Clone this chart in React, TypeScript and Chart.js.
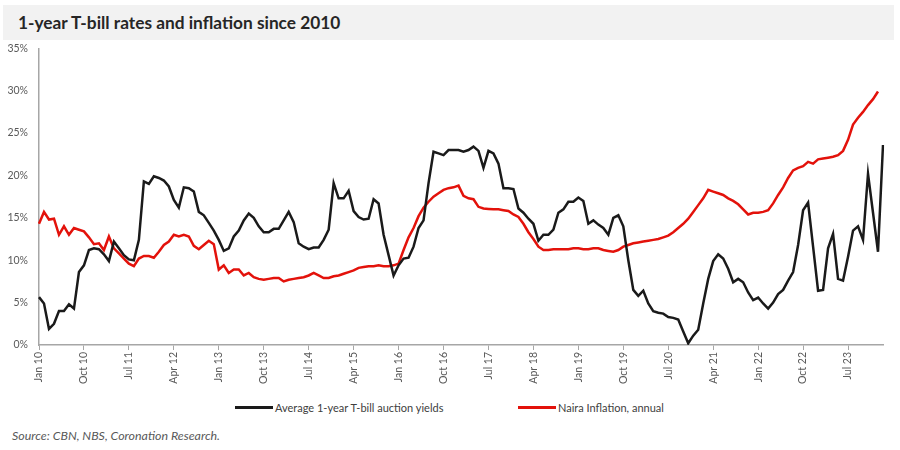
import { Chart, registerables } from "chart.js";
import { ChartConfiguration } from "chart.js";
import { useEffect, useRef } from "react";

Chart.register(...registerables);

const MONTHS = ["Jan", "Feb", "Mar", "Apr", "May", "Jun", "Jul", "Aug", "Sep", "Oct", "Nov", "Dec"];

// monthly categories, Jan 10 .. Feb 24
const categories: string[] = Array.from({ length: 170 }).map(
  (_, i) => `${MONTHS[i % 12]} ${10 + Math.floor(i / 12)}`
);

const TICK_EVERY = 9;
const Y_MIN = 0;
const Y_MAX = 35;
const Y_STEP = 5;

// Average 1-year T-bill auction yields, %
const tbillYields = [
  5.65, 4.9, 1.9, 2.5, 4.0, 4.0, 4.8, 4.3, 8.6, 9.4, 11.2, 11.4,
  11.3, 10.7, 9.9, 12.2, 11.4, 10.6, 10.1, 10.0, 12.4, 19.3, 19.0, 19.9,
  19.7, 19.4, 18.7, 17.1, 16.2, 18.6, 18.5, 18.1, 15.7, 15.3, 14.4, 13.5,
  12.4, 11.1, 11.4, 12.8, 13.5, 14.7, 15.5, 15.0, 14.0, 13.3, 13.3, 13.7,
  13.7, 14.7, 15.7, 14.5, 12.0, 11.6, 11.3, 11.5, 11.5, 12.4, 13.6, 19.1,
  17.3, 17.3, 18.2, 15.8, 15.1, 14.8, 14.9, 17.2, 16.7, 13.0, 10.6, 8.2,
  9.4, 10.2, 10.3, 11.6, 13.8, 14.7, 19.1, 22.8, 22.6, 22.4, 23.0, 23.0,
  23.0, 22.8, 23.0, 23.4, 22.9, 20.9, 22.9, 22.6, 21.4, 18.5, 18.5, 18.4,
  16.1, 15.6, 14.9, 14.3, 12.3, 13.0, 13.0, 13.6, 15.6, 16.0, 16.9, 16.9,
  17.4, 17.0, 14.3, 14.7, 14.2, 13.8, 13.0, 15.0, 15.3, 14.0, 10.0, 6.5,
  5.8, 6.4, 4.9, 4.0, 3.8, 3.7, 3.3, 3.2, 3.0, 1.6, 0.2, 1.1,
  1.8, 4.9, 7.8, 9.9, 10.7, 10.2, 9.0, 7.4, 7.8, 7.4, 6.2, 5.3,
  5.6, 4.9, 4.3, 5.0, 6.0, 6.5, 7.6, 8.6, 11.8, 15.9, 16.8, 11.6,
  6.4, 6.5, 11.4, 13.1, 7.8, 7.6, 10.4, 13.5, 14.0, 12.4, 20.2, 15.6,
  11.0, 23.6,
];

// Naira inflation, annual, %
const inflation = [
  14.3, 15.7, 14.8, 14.9, 13.0, 14.0, 13.0, 13.8, 13.6, 13.4, 12.7, 11.9,
  12.0, 11.2, 12.8, 11.4, 10.8, 10.2, 9.6, 9.3, 10.2, 10.5, 10.5, 10.3,
  11.0, 11.8, 12.2, 13.0, 12.8, 13.0, 12.8, 11.7, 11.3, 11.8, 12.3, 11.9,
  8.9, 9.4, 8.5, 8.9, 8.9, 8.2, 8.5, 8.0, 7.8, 7.7, 7.8, 7.9,
  7.9, 7.5, 7.7, 7.8, 7.9, 8.0, 8.2, 8.5, 8.2, 7.9, 7.9, 8.1,
  8.2, 8.4, 8.6, 8.8, 9.1, 9.2, 9.3, 9.3, 9.4, 9.3, 9.3, 9.4,
  9.6, 11.2, 12.7, 13.8, 15.2, 16.2, 16.9, 17.5, 17.9, 18.3, 18.5, 18.6,
  18.8, 17.6, 17.3, 17.2, 16.3, 16.1, 16.05, 16.0, 16.0, 15.9, 15.8, 15.4,
  15.1, 14.3, 13.3, 12.5, 11.6, 11.2, 11.2, 11.3, 11.3, 11.3, 11.3, 11.4,
  11.4, 11.3, 11.3, 11.4, 11.4, 11.2, 11.1, 11.0, 11.2, 11.6, 11.8, 12.0,
  12.1, 12.2, 12.3, 12.4, 12.5, 12.7, 12.9, 13.3, 13.8, 14.3, 14.9, 15.7,
  16.5, 17.3, 18.3, 18.1, 17.9, 17.7, 17.3, 17.0, 16.6, 16.0, 15.4, 15.6,
  15.6, 15.7, 15.9, 16.7, 17.7, 18.6, 19.7, 20.6, 20.9, 21.1, 21.6, 21.4,
  21.9, 22.0, 22.1, 22.2, 22.4, 22.9, 24.2, 26.0, 26.8, 27.5, 28.3, 29.0,
  29.9,
];

const BLACK = "#1a1a1a";
const RED = "#e3120b";
const AXIS = "#a6a6a6";
const TEXT = "#595959";
const FONT = "Lato";

const SERIES = [
  { label: "Average 1-year T-bill auction yields", data: tbillYields, color: BLACK, left: 235 },
  { label: "Naira Inflation, annual", data: inflation, color: RED, left: 518 },
];

const App = () => {
  const canvasRef = useRef<HTMLCanvasElement>(null);

  useEffect(() => {
    document.body.style.margin = "0";
    const ctx = canvasRef.current?.getContext("2d");

    if (!ctx) {
      return;
    }

    const config: ChartConfiguration<"line"> = {
      type: "line",
      data: {
        labels: categories,
        datasets: SERIES.map((s) => ({
          label: s.label,
          data: s.data,
          borderColor: s.color,
          backgroundColor: s.color,
          borderWidth: 2.5,
          pointRadius: 0,
          tension: 0,
        })),
      },
      options: {
        animation: false,
        responsive: false,
        layout: { padding: { top: 0, right: 17, left: 0, bottom: 0 } },
        plugins: {
          legend: { display: false },
          tooltip: { enabled: false },
        },
        scales: {
          x: {
            type: "category",
            afterBuildTicks: (scale) => {
              scale.ticks = scale.ticks.filter((t) => t.value % TICK_EVERY === 0);
            },
            afterFit: (scale) => {
              scale.height = 50;
            },
            grid: { drawOnChartArea: false, drawTicks: true, tickLength: 5, color: AXIS, lineWidth: 1 },
            border: { display: true, color: AXIS, width: 1.5 },
            ticks: {
              autoSkip: false,
              maxRotation: 90,
              minRotation: 90,
              padding: 2,
              color: TEXT,
              font: { family: FONT, size: 10.5 },
            },
          },
          y: {
            min: Y_MIN,
            max: Y_MAX,
            afterFit: (scale) => {
              scale.width = 39;
            },
            grid: { display: false, drawTicks: false },
            border: { display: true, color: AXIS, width: 1.5 },
            ticks: {
              stepSize: Y_STEP,
              padding: 11,
              color: TEXT,
              font: { family: FONT, size: 10.5 },
              callback: (v) => `${v}%`,
            },
          },
        },
      },
    };

    const chart = new Chart(ctx, config);

    return () => {
      chart.destroy();
    };
  }, []);

  return (
    <div style={{ position: "relative", width: 900, height: 450, background: "#fff", fontFamily: FONT }}>
      <div style={{ position: "absolute", left: 3, top: 5, width: 891, height: 35, background: "#f2f2f2" }}>
        <span
          style={{
            position: "absolute",
            left: 15,
            top: 0,
            lineHeight: "35px",
            fontSize: 17.3,
            fontWeight: 700,
            color: "#262626",
            whiteSpace: "nowrap",
          }}
        >
          1-year T-bill rates and inflation since 2010
        </span>
      </div>
      <canvas
        ref={canvasRef}
        width={900}
        height={364}
        style={{ position: "absolute", left: 0, top: 31, width: 900, height: 364 }}
      />
      {SERIES.map((s) => (
        <div
          key={s.label}
          style={{ position: "absolute", left: s.left, top: 400, height: 15, display: "flex", alignItems: "center" }}
        >
          <span style={{ display: "inline-block", width: 38, height: 3, background: s.color, marginRight: 2 }} />
          <span style={{ fontSize: 11, color: "#404040", whiteSpace: "nowrap" }}>{s.label}</span>
        </div>
      ))}
      <div
        style={{
          position: "absolute",
          left: 12,
          top: 428,
          fontSize: 12.4,
          fontStyle: "italic",
          color: TEXT,
          whiteSpace: "nowrap",
        }}
      >
        Source: CBN, NBS, Coronation Research.
      </div>
    </div>
  );
};

export default App;
